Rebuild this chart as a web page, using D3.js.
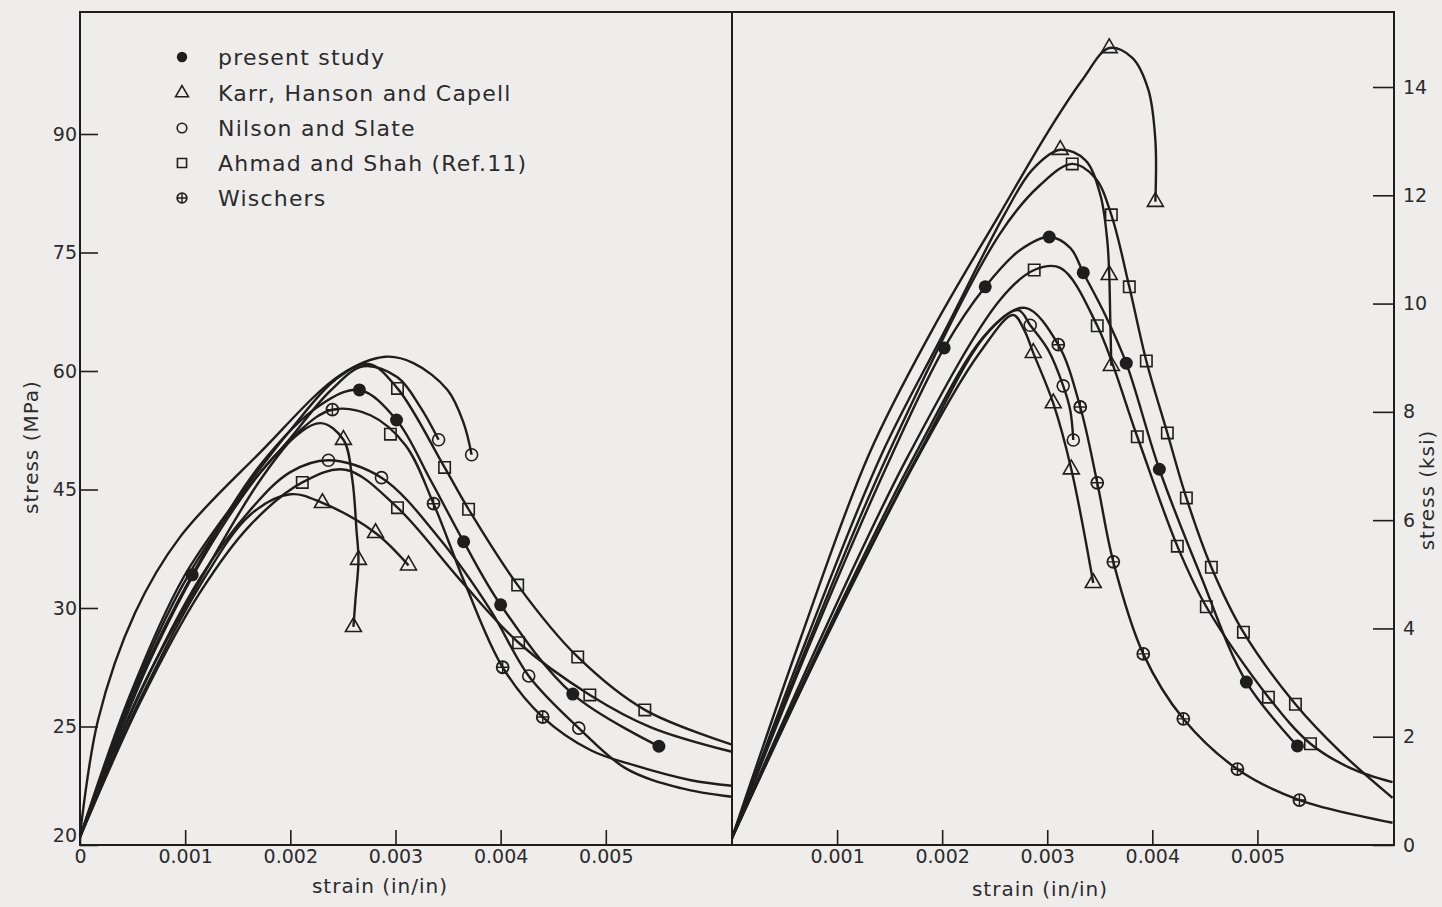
<!DOCTYPE html>
<html>
<head>
<meta charset="utf-8">
<script src="https://cdn.jsdelivr.net/npm/d3@7"></script>
<style>
  html, body { margin: 0; padding: 0; background: #efedeb; }
  svg { display: block; }
  text { font-family: "DejaVu Sans", sans-serif; fill: #2b2b2b; }
</style>
</head>
<body>
<div id="chart"></div>
<script>
// ---- tick values / labels ----
const strainTicksLeft = [0, 0.001, 0.002, 0.003, 0.004, 0.005];
const strainTicksRight = [0.001, 0.002, 0.003, 0.004, 0.005];
const mpaTicks = [0, 15, 30, 45, 60, 75, 90];
const mpaTickLabels = ["20", "25", "30", "45", "60", "75", "90"]; // as printed
const ksiTicks = [0, 2, 4, 6, 8, 10, 12, 14];

// ---- legend ----
const seriesNames = ["present study", "Karr, Hanson and Capell", "Nilson and Slate", "Ahmad and Shah (Ref.11)", "Wischers"];
const seriesSymbols = ["dot", "triangle", "circle", "square", "plusCircle"];

// ---- left panel curves: [strain, stress MPa] ----
const leftPresent = [[0,1.0],[0.000524,19.6],[0.001067,34.2],[0.001714,48.1],[0.002286,55.7],[0.002657,57.6],[0.00301,53.8],[0.003333,46.2],[0.003648,38.4],[0.004,30.4],[0.004686,19.1],[0.005505,12.5]];
const leftPresentMarks = [2,5,6,8,9,10,11];
const leftKarrA = [[0,1.0],[0.000667,23.4],[0.001333,39.9],[0.001905,50.0],[0.002286,53.4],[0.002505,51.3],[0.00259,46.2],[0.002629,39.9],[0.002648,36.1],[0.002619,31.0],[0.0026,27.6]];
const leftKarrAMarks = [5,8,10];
const leftKarrB = [[0,1.0],[0.000571,18.4],[0.001143,32.9],[0.001619,41.8],[0.002,44.4],[0.002305,43.3],[0.00281,39.5],[0.003124,35.4]];
const leftKarrBMarks = [5,6,7];
const leftNilsonA = [[0,1.0],[0.000571,19.2],[0.001143,33.8],[0.001619,42.4],[0.002,47.2],[0.002362,48.7],[0.002867,46.5],[0.003429,38.6],[0.003905,29.7],[0.004267,21.4],[0.004743,14.8],[0.00519,9.7],[0.005714,7.2],[0.0062,6.1]];
const leftNilsonAMarks = [5,6,9,10];
const leftNilsonB = [[0,1.2],[0.000171,15.8],[0.000524,29.4],[0.000952,39.0],[0.001714,49.7],[0.002476,59.5],[0.002905,61.8],[0.003171,61.0],[0.003495,57.6],[0.003648,53.4],[0.003724,49.4]];
const leftNilsonBMarks = [10];
const leftNilsonC = [[0,1.0],[0.000476,18.5],[0.000981,33.0],[0.001524,44.0],[0.002,51.5],[0.002381,57.5],[0.002695,60.6],[0.003019,59.2],[0.003238,55.4],[0.00341,51.3]];
const leftNilsonCMarks = [9];
const leftAhmadA = [[0,1.0],[0.000476,19.0],[0.000981,33.8],[0.001524,44.3],[0.002,52.5],[0.002429,58.9],[0.002743,60.9],[0.003019,57.8],[0.003467,47.8],[0.003695,42.5],[0.004162,32.9],[0.004733,23.8],[0.005371,17.1],[0.0062,12.7]];
const leftAhmadAMarks = [7,8,9,10,11,12];
const leftAhmadB = [[0,1.0],[0.000571,18.0],[0.001143,32.0],[0.001619,40.5],[0.002114,45.9],[0.002524,47.5],[0.003019,42.7],[0.003619,33.5],[0.004171,25.6],[0.004848,19.0],[0.005429,14.9],[0.0062,11.8]];
const leftAhmadBMarks = [4,6,8,9];
const leftAhmadC = [[0.002952,52.0]];
const leftAhmadCMarks = [0];
const leftWischers = [[0,1.0],[0.000571,19.4],[0.001143,33.5],[0.001714,46.2],[0.002095,52.5],[0.0024,55.1],[0.002762,54.4],[0.003095,50.6],[0.003362,43.2],[0.003667,32.9],[0.004019,22.5],[0.0044,16.2],[0.004857,12.0],[0.005267,10.1],[0.00581,8.2],[0.0062,7.5]];
const leftWischersMarks = [5,8,10,11];

// ---- right panel curves: [strain, stress ksi] ----
const rightKarrA = [[0,0.13],[0.00065,3.8],[0.0013,7.2],[0.001905,9.51],[0.002543,11.64],[0.003019,13.21],[0.003333,14.13],[0.00359,14.72],[0.00381,14.54],[0.003962,13.95],[0.004029,13.02],[0.004029,11.88]];
const rightKarrAMarks = [7,11];
const rightKarrB = [[0,0.13],[0.00071,3.8],[0.00142,7.2],[0.002029,9.51],[0.0026,11.67],[0.002857,12.47],[0.003124,12.84],[0.003362,12.65],[0.003505,12.01],[0.003571,11.17],[0.00359,10.53],[0.0036,9.70],[0.00361,8.85]];
const rightKarrBMarks = [6,10,12];
const rightKarrC = [[0,0.13],[0.00089,3.8],[0.00178,7.2],[0.00236,9.1],[0.002676,9.79],[0.002781,9.51],[0.002867,9.09],[0.003057,8.16],[0.003229,6.94],[0.003438,4.84]];
const rightKarrCMarks = [6,7,8,9];
const rightNilson = [[0,0.13],[0.00087,3.8],[0.00174,7.2],[0.0024,9.4],[0.002724,9.88],[0.002838,9.60],[0.00301,9.14],[0.003152,8.48],[0.003219,8.03],[0.003248,7.48]];
const rightNilsonMarks = [5,7,9];
const rightAhmadA = [[0,0.13],[0.00074,3.8],[0.00148,7.2],[0.002543,11.27],[0.002933,12.19],[0.003238,12.58],[0.003457,12.32],[0.00361,11.64],[0.003781,10.31],[0.003943,8.94],[0.004143,7.61],[0.004324,6.41],[0.004562,5.13],[0.004867,3.93],[0.005362,2.60],[0.00579,1.72],[0.006286,0.87]];
const rightAhmadAMarks = [5,7,8,9,10,11,12,13,14];
const rightAhmadB = [[0,0.13],[0.00084,3.8],[0.00168,7.2],[0.002552,10.07],[0.002876,10.62],[0.003124,10.66],[0.003476,9.59],[0.003857,7.54],[0.004238,5.52],[0.004514,4.40],[0.005105,2.73],[0.005505,1.87],[0.005886,1.42],[0.006286,1.16]];
const rightAhmadBMarks = [4,6,7,8,9,10,11];
const rightPresent = [[0,0.13],[0.00076,3.8],[0.00152,7.2],[0.002019,9.18],[0.00241,10.31],[0.002743,10.99],[0.003019,11.23],[0.003219,11.03],[0.003343,10.57],[0.003552,9.79],[0.003752,8.90],[0.004067,6.94],[0.004457,4.99],[0.004895,3.01],[0.005381,1.83]];
const rightPresentMarks = [3,4,6,8,10,11,13,14];
const rightWischers = [[0,0.13],[0.000885,3.8],[0.00177,7.2],[0.00245,9.5],[0.00279,9.92],[0.003105,9.24],[0.003314,8.09],[0.003476,6.69],[0.003629,5.23],[0.003914,3.53],[0.004295,2.33],[0.00481,1.40],[0.0054,0.83],[0.006286,0.41]];
const rightWischersMarks = [5,6,7,8,9,10,11,12];

// series index: 0 present, 1 Karr, 2 Nilson, 3 Ahmad, 4 Wischers
const curves = [
    { panel: "left", series: 0, pts: leftPresent, marks: leftPresentMarks },
    { panel: "left", series: 1, pts: leftKarrA, marks: leftKarrAMarks },
    { panel: "left", series: 1, pts: leftKarrB, marks: leftKarrBMarks },
    { panel: "left", series: 2, pts: leftNilsonA, marks: leftNilsonAMarks },
    { panel: "left", series: 2, pts: leftNilsonB, marks: leftNilsonBMarks },
    { panel: "left", series: 2, pts: leftNilsonC, marks: leftNilsonCMarks },
    { panel: "left", series: 3, pts: leftAhmadA, marks: leftAhmadAMarks },
    { panel: "left", series: 3, pts: leftAhmadB, marks: leftAhmadBMarks },
    { panel: "left", series: 3, pts: leftAhmadC, marks: leftAhmadCMarks },
    { panel: "left", series: 4, pts: leftWischers, marks: leftWischersMarks },
    { panel: "right", series: 1, pts: rightKarrA, marks: rightKarrAMarks },
    { panel: "right", series: 1, pts: rightKarrB, marks: rightKarrBMarks },
    { panel: "right", series: 1, pts: rightKarrC, marks: rightKarrCMarks },
    { panel: "right", series: 2, pts: rightNilson, marks: rightNilsonMarks },
    { panel: "right", series: 3, pts: rightAhmadA, marks: rightAhmadAMarks },
    { panel: "right", series: 3, pts: rightAhmadB, marks: rightAhmadBMarks },
    { panel: "right", series: 0, pts: rightPresent, marks: rightPresentMarks },
    { panel: "right", series: 4, pts: rightWischers, marks: rightWischersMarks },
];

// ---- layout ----
const W = 1442, H = 907;
const frame = { left: 80, mid: 732, right: 1394, top: 12, bottom: 845 };
const INK = "#1e1e1e";

const svg = d3.select("#chart").append("svg").attr("width", W).attr("height", H);
svg.append("rect").attr("width", W).attr("height", H).attr("fill", "#efedeb");

const xLeft = d3.scaleLinear().domain([0, 0.0062]).range([frame.left, frame.mid]);
const xRight = d3.scaleLinear().domain([0, 0.0063]).range([frame.mid, frame.right]);
const yMPa = d3.scaleLinear().domain([0, 90]).range([frame.bottom, 134]);
const yKsi = d3.scaleLinear().domain([0, 14]).range([frame.bottom, 87]);

const scales = {
    left: { x: xLeft, y: yMPa },
    right: { x: xRight, y: yKsi },
};

// axes
function styleAxis(g) {
    g.select(".domain").remove();
    g.selectAll(".tick line").attr("stroke", INK).attr("stroke-width", 1.6);
    g.selectAll(".tick text")
        .attr("fill", "#2b2b2b")
        .style("font-family", "'DejaVu Sans', sans-serif")
        .style("font-size", "19px");
}

svg.append("g")
    .attr("transform", `translate(0,${frame.bottom})`)
    .call(d3.axisBottom(xLeft).tickValues(strainTicksLeft).tickSize(-15).tickSizeOuter(0).tickPadding(5)
        .tickFormat((d) => (d === 0 ? "0" : d3.format(".3f")(d))))
    .call(styleAxis);

svg.append("g")
    .attr("transform", `translate(0,${frame.bottom})`)
    .call(d3.axisBottom(xRight).tickValues(strainTicksRight).tickSize(-15).tickSizeOuter(0).tickPadding(5)
        .tickFormat(d3.format(".3f")))
    .call(styleAxis);

svg.append("g")
    .attr("transform", `translate(${frame.left},0)`)
    .call(d3.axisLeft(yMPa).tickValues(mpaTicks).tickSize(-18).tickSizeOuter(0).tickPadding(3)
        .tickFormat((d, i) => mpaTickLabels[i]))
    .call(styleAxis)
    .call((g) => g.selectAll(".tick text").filter((d) => d === 0).attr("dy", "-0.2em"));

svg.append("g")
    .attr("transform", `translate(${frame.right},0)`)
    .call(d3.axisRight(yKsi).tickValues(ksiTicks).tickSize(-21).tickSizeOuter(0).tickPadding(9))
    .call(styleAxis);

// frame
svg.append("rect")
    .attr("x", frame.left).attr("y", frame.top)
    .attr("width", frame.right - frame.left).attr("height", frame.bottom - frame.top)
    .attr("fill", "none").attr("stroke", INK).attr("stroke-width", 2);
svg.append("line")
    .attr("x1", frame.mid).attr("x2", frame.mid).attr("y1", frame.top).attr("y2", frame.bottom)
    .attr("stroke", INK).attr("stroke-width", 2);

// axis titles
const titleStyle = (sel) => sel.style("font-size", "20px").style("letter-spacing", "1px").attr("text-anchor", "middle");
svg.append("text").attr("transform", "translate(38,447) rotate(-90)").text("stress (MPa)").call(titleStyle);
svg.append("text").attr("x", 380).attr("y", 893).text("strain (in/in)").call(titleStyle);
svg.append("text").attr("x", 1040).attr("y", 896).text("strain (in/in)").call(titleStyle);
svg.append("text").attr("transform", "translate(1434,490) rotate(-90)").text("stress (ksi)").call(titleStyle);

// markers
function drawSymbol(g, kind, cx, cy, s) {
    if (kind === "dot") {
        g.append("circle").attr("cx", cx).attr("cy", cy).attr("r", 6.5 * s).attr("fill", INK);
    } else if (kind === "circle") {
        g.append("circle").attr("cx", cx).attr("cy", cy).attr("r", 6 * s)
            .attr("fill", "none").attr("stroke", INK).attr("stroke-width", 1.6);
    } else if (kind === "triangle") {
        g.append("path").attr("d", d3.symbol(d3.symbolTriangle, 110 * s * s)())
            .attr("transform", `translate(${cx},${cy})`)
            .attr("fill", "none").attr("stroke", INK).attr("stroke-width", 1.6);
    } else if (kind === "square") {
        g.append("path").attr("d", d3.symbol(d3.symbolSquare, 130 * s * s)())
            .attr("transform", `translate(${cx},${cy})`)
            .attr("fill", "none").attr("stroke", INK).attr("stroke-width", 1.6);
    } else if (kind === "plusCircle") {
        const r = 6 * s;
        g.append("circle").attr("cx", cx).attr("cy", cy).attr("r", r)
            .attr("fill", "none").attr("stroke", INK).attr("stroke-width", 1.8);
        g.append("path").attr("d", `M${cx - r},${cy}H${cx + r}M${cx},${cy - r}V${cy + r}`)
            .attr("stroke", INK).attr("stroke-width", 1.4);
    }
}

// curves
const curveLayer = svg.append("g");
const markLayer = svg.append("g");

curves.forEach((c) => {
    const { x, y } = scales[c.panel];
    const line = d3.line()
        .x((d) => x(d[0]))
        .y((d) => y(d[1]))
        .curve(d3.curveCatmullRom.alpha(0.5));
    if (c.pts.length > 1) {
        curveLayer.append("path")
            .attr("d", line(c.pts))
            .attr("fill", "none")
            .attr("stroke", INK)
            .attr("stroke-width", 2.4)
            .attr("stroke-linejoin", "round");
    }
    c.marks.forEach((i) => {
        const p = c.pts[i];
        drawSymbol(markLayer, seriesSymbols[c.series], x(p[0]), y(p[1]), 1);
    });
});

// legend
const legend = svg.append("g");
const legendRows = [57, 93, 128, 163, 198];
seriesNames.forEach((name, i) => {
    drawSymbol(legend, seriesSymbols[i], 182, legendRows[i], 0.8);
    legend.append("text")
        .attr("x", 218).attr("y", legendRows[i] + 8)
        .style("font-size", "22px")
        .style("letter-spacing", "1.2px")
        .text(name);
});
</script>
</body>
</html>
